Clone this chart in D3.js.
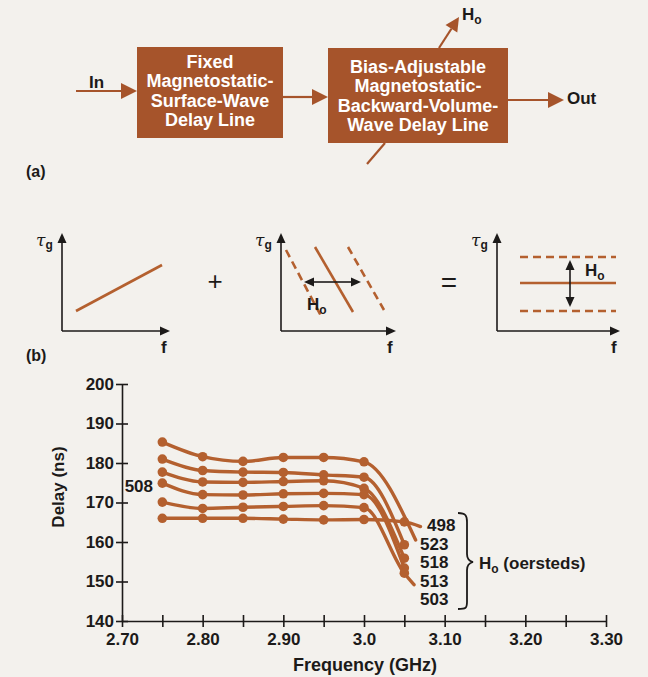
<!DOCTYPE html>
<html>
<head>
<meta charset="utf-8">
<script src="https://cdn.jsdelivr.net/npm/d3@7"></script>
<style>
  body { margin: 0; background: #f3f1ed; }
  svg { display: block; font-family: "Liberation Sans", Arial, sans-serif; }
</style>
</head>
<body>
<svg width="648" height="677"></svg>
<script>
// measured delay curves, Delay (ns) vs Frequency (GHz)
const freqs = [2.75, 2.80, 2.85, 2.90, 2.95, 3.00, 3.05];
const fields = ["523", "518", "513", "508", "503", "498"];
const delay523 = [185.3, 181.6, 180.4, 181.4, 181.4, 180.3, null];
const delay518 = [181.0, 178.1, 177.7, 177.6, 177.0, 176.4, 159.3];
const delay513 = [177.7, 175.2, 175.1, 175.3, 175.5, 173.6, 155.9];
const delay508 = [174.9, 172.0, 171.9, 172.2, 172.3, 172.0, 153.4];
const delay503 = [170.1, 168.5, 168.8, 169.0, 169.2, 168.7, 152.1];
const delay498 = [166.0, 166.0, 166.0, 165.8, 165.6, 165.7, 165.1];
// where a line runs on past its last dot
const tailFreq = [3.064, null, null, null, 3.062, 3.070];
const tailDelay = [160.5, null, null, null, 149.2, 163.9];

const xTicks = [2.70, 2.75, 2.80, 2.85, 2.90, 2.95, 3.00, 3.05, 3.10, 3.15, 3.20, 3.25, 3.30];
const xLabels = {"2.70": "2.70", "2.80": "2.80", "2.90": "2.90", "3.00": "3.0", "3.10": "3.10", "3.20": "3.20", "3.30": "3.30"};
const yTicks = [140, 150, 160, 170, 180, 190, 200];

const series = [delay523, delay518, delay513, delay508, delay503, delay498];

const brown = "#a6542b";
const curve = "#b4602f";
const ink = "#1c1a19";

const svg = d3.select("svg");

// ---------- (a) block diagram ----------
function arrow(g, x1, y1, x2, y2, color, len, half, width) {
  const a = Math.atan2(y2 - y1, x2 - x1);
  const bx = x2 - len * Math.cos(a), by = y2 - len * Math.sin(a);
  g.append("line")
    .attr("x1", x1).attr("y1", y1).attr("x2", bx).attr("y2", by)
    .attr("stroke", color).attr("stroke-width", width);
  const p = d3.path();
  p.moveTo(x2, y2);
  p.lineTo(bx + half * Math.sin(a), by - half * Math.cos(a));
  p.lineTo(bx - half * Math.sin(a), by + half * Math.cos(a));
  p.closePath();
  g.append("path").attr("d", p.toString()).attr("fill", color);
}

const diag = svg.append("g");

const boxes = [
  {x: 137, y: 47, w: 146, h: 91, lines: ["Fixed", "Magnetostatic-", "Surface-Wave", "Delay Line"], base: 68},
  {x: 328, y: 48, w: 180, h: 95, lines: ["Bias-Adjustable", "Magnetostatic-", "Backward-Volume-", "Wave Delay Line"], base: 73}
];
boxes.forEach(b => {
  diag.append("rect").attr("x", b.x).attr("y", b.y).attr("width", b.w).attr("height", b.h).attr("fill", brown);
  diag.append("text")
    .attr("fill", "#fff").attr("font-weight", "bold").attr("font-size", 18)
    .attr("text-anchor", "middle")
    .selectAll("tspan").data(b.lines).join("tspan")
    .attr("x", b.x + b.w / 2).attr("y", (d, i) => b.base + i * 19.3)
    .text(d => d);
});

arrow(diag, 76, 91, 137, 91, brown, 16, 8, 2.2);
arrow(diag, 283, 97, 328, 97, brown, 16, 8, 2.2);
arrow(diag, 508, 100, 564, 100, brown, 16, 8, 2.2);
arrow(diag, 439, 48, 459, 17, brown, 14, 7, 2.2);
diag.append("line").attr("x1", 385).attr("y1", 143).attr("x2", 367).attr("y2", 164)
  .attr("stroke", brown).attr("stroke-width", 2.2);

diag.append("text").attr("x", 89).attr("y", 88).attr("font-size", 17).attr("font-weight", "bold")
  .attr("fill", ink).text("In");
diag.append("text").attr("x", 567).attr("y", 104).attr("font-size", 17).attr("font-weight", "bold")
  .attr("fill", ink).text("Out");
const hTop = diag.append("text").attr("x", 462).attr("y", 20).attr("font-size", 17)
  .attr("font-weight", "bold").attr("fill", ink);
hTop.append("tspan").text("H");
hTop.append("tspan").attr("font-size", 12).attr("dy", 4).text("o");

diag.append("text").attr("x", 26).attr("y", 177).attr("font-size", 16).attr("font-weight", "bold")
  .attr("fill", ink).text("(a)");
diag.append("text").attr("x", 26).attr("y", 361).attr("font-size", 16).attr("font-weight", "bold")
  .attr("fill", ink).text("(b)");

// small sketches: tau_g vs f
const panelX = [62, 281, 497];
const panelEnd = [170, 396, 620];
const panelBase = 331, panelTop = 233;
panelX.forEach((x0, k) => {
  arrow(diag, x0, panelBase, x0, panelTop, ink, 10, 4.5, 1.6);
  arrow(diag, x0, panelBase, panelEnd[k], panelBase, ink, 10, 4.5, 1.6);
  const t = diag.append("text").attr("x", x0 - 26).attr("y", 246).attr("font-size", 17).attr("fill", ink);
  t.append("tspan").attr("font-style", "italic").attr("font-family", "DejaVu Serif").text("τ");
  t.append("tspan").attr("font-size", 12).attr("font-weight", "bold").attr("dy", 3).text("g");
  diag.append("text").attr("x", panelEnd[k] - 9).attr("y", 353).attr("font-size", 17)
    .attr("font-weight", "bold").attr("fill", ink).text("f");
});

function seg(x1, y1, x2, y2, dashed) {
  diag.append("line").attr("x1", x1).attr("y1", y1).attr("x2", x2).attr("y2", y2)
    .attr("stroke", curve).attr("stroke-width", 2.6)
    .attr("stroke-dasharray", dashed ? "8,5" : null);
}
seg(76, 311, 162, 265, false);

seg(286, 250, 321, 316, true);
seg(315, 247, 353, 312, false);
seg(348, 247, 384, 310, true);
arrow(diag, 332, 282, 304, 282, ink, 10, 4.5, 1.6);
arrow(diag, 332, 282, 361, 282, ink, 10, 4.5, 1.6);
const h2 = diag.append("text").attr("x", 307).attr("y", 310).attr("font-size", 17)
  .attr("font-weight", "bold").attr("fill", ink);
h2.append("tspan").text("H");
h2.append("tspan").attr("font-size", 12).attr("dy", 4).text("o");

seg(520, 257, 616, 257, true);
seg(520, 283, 616, 283, false);
seg(520, 311, 616, 311, true);
arrow(diag, 570, 284, 570, 260, ink, 10, 4.5, 1.6);
arrow(diag, 570, 284, 570, 307, ink, 10, 4.5, 1.6);
const h3 = diag.append("text").attr("x", 585).attr("y", 276).attr("font-size", 17)
  .attr("font-weight", "bold").attr("fill", ink);
h3.append("tspan").text("H");
h3.append("tspan").attr("font-size", 12).attr("dy", 4).text("o");

diag.append("text").attr("x", 215).attr("y", 290).attr("font-size", 26).attr("text-anchor", "middle")
  .attr("fill", ink).text("+");
diag.append("text").attr("x", 449).attr("y", 292).attr("font-size", 28).attr("text-anchor", "middle")
  .attr("fill", ink).text("=");

// ---------- (b) delay chart ----------
const x = d3.scaleLinear().domain([2.70, 3.30]).range([122, 606]);
const y = d3.scaleLinear().domain([140, 200]).range([621, 384]);

const chart = svg.append("g");

const xAxis = chart.append("g").attr("transform", "translate(0,621)")
  .call(d3.axisBottom(x).tickValues(xTicks).tickSizeOuter(0).tickSizeInner(6)
    .tickFormat(d => xLabels[d.toFixed(2)] || ""));
xAxis.select(".domain").attr("stroke", ink).attr("stroke-width", 1.6);
xAxis.selectAll(".tick line").attr("y1", -6).attr("y2", 6).attr("stroke", ink).attr("stroke-width", 1.6);
xAxis.selectAll(".tick text").attr("y", 12).attr("font-size", 17).attr("font-weight", "bold")
  .attr("fill", ink).attr("font-family", "Liberation Sans, Arial, sans-serif");

const yAxis = chart.append("g").attr("transform", "translate(122,0)")
  .call(d3.axisLeft(y).tickValues(yTicks).tickSizeOuter(0).tickSizeInner(6));
yAxis.select(".domain").attr("stroke", ink).attr("stroke-width", 1.6);
yAxis.selectAll(".tick line").attr("x1", -6).attr("x2", 6).attr("stroke", ink).attr("stroke-width", 1.6);
yAxis.selectAll(".tick text").attr("x", -8).attr("font-size", 17).attr("font-weight", "bold")
  .attr("fill", ink).attr("font-family", "Liberation Sans, Arial, sans-serif");

chart.append("text").attr("transform", "translate(64,487) rotate(-90)")
  .attr("text-anchor", "middle").attr("font-size", 17).attr("font-weight", "bold")
  .attr("fill", ink).text("Delay (ns)");
chart.append("text").attr("x", 365).attr("y", 671)
  .attr("text-anchor", "middle").attr("font-size", 18).attr("font-weight", "bold")
  .attr("fill", ink).text("Frequency (GHz)");

const line = d3.line()
  .x(d => x(d[0])).y(d => y(d[1]))
  .curve(d3.curveMonotoneX);

series.forEach((vals, i) => {
  const dots = freqs.map((f, j) => [f, vals[j]]).filter(d => d[1] != null);
  const pts = dots.slice();
  if (tailFreq[i] != null) pts.push([tailFreq[i], tailDelay[i]]);
  chart.append("path").attr("d", line(pts))
    .attr("fill", "none").attr("stroke", curve).attr("stroke-width", 3.4)
    .attr("stroke-linecap", "round");
  chart.append("g").selectAll("circle").data(dots).join("circle")
    .attr("cx", d => x(d[0])).attr("cy", d => y(d[1])).attr("r", 4.8)
    .attr("fill", curve);
});

// field labels
chart.append("text").attr("x", 153).attr("y", 492).attr("text-anchor", "end")
  .attr("font-size", 17).attr("font-weight", "bold").attr("fill", ink).text(fields[3]);
const rightLabels = [fields[5], fields[0], fields[1], fields[2], fields[4]];
chart.append("g").selectAll("text").data(rightLabels).join("text")
  .attr("x", (d, i) => i === 0 ? 427 : 420)
  .attr("y", (d, i) => 531 + i * 18.6)
  .attr("font-size", 17).attr("font-weight", "bold").attr("fill", ink)
  .text(d => d);

chart.append("path")
  .attr("d", "M458,513 C466,513 467,516 467,522 L467,554 C467,559 469,561 473,562 C469,563 467,565 467,570 L467,602 C467,608 466,609 458,609")
  .attr("fill", "none").attr("stroke", ink).attr("stroke-width", 1.8);
const hl = chart.append("text").attr("x", 479).attr("y", 569).attr("font-size", 17)
  .attr("font-weight", "bold").attr("fill", ink);
hl.append("tspan").text("H");
hl.append("tspan").attr("font-size", 12).attr("dy", 4).text("o");
hl.append("tspan").attr("dy", -4).text(" (oersteds)");
</script>
</body>
</html>
